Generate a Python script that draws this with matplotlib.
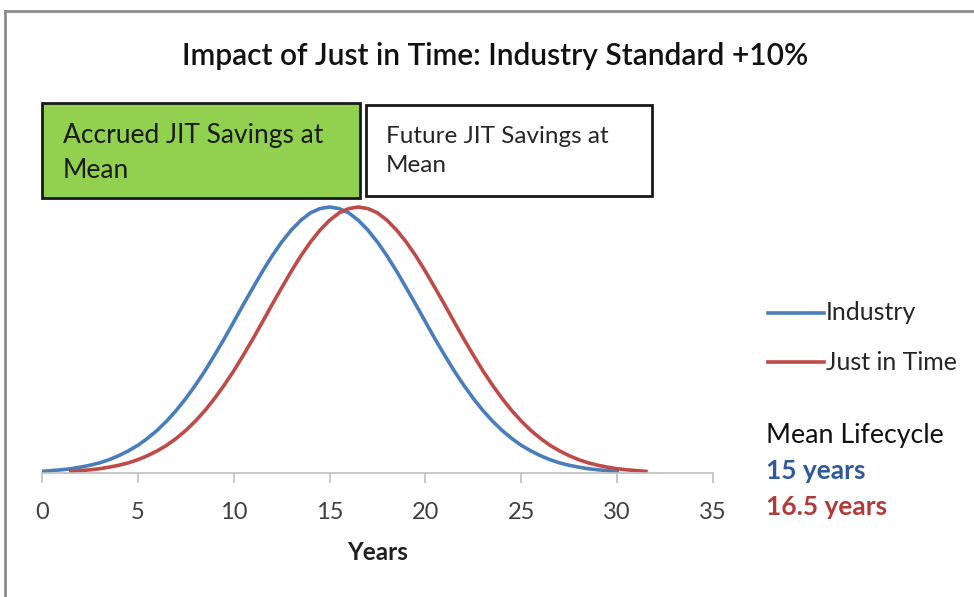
import matplotlib
matplotlib.use("Agg")
from matplotlib import pyplot as plt
from matplotlib.patches import Rectangle
from matplotlib.lines import Line2D

W, H = 974, 597

# values (relative height, peak = 1), every half year
industry_years = [i / 2 for i in range(0, 61)]
industry = [0.006, 0.009, 0.012, 0.016, 0.022, 0.029, 0.038, 0.050, 0.065, 0.083,
            0.104, 0.130, 0.160, 0.195, 0.235, 0.280, 0.330, 0.384, 0.443, 0.504,
            0.568, 0.633, 0.696, 0.758, 0.816, 0.868, 0.913, 0.950, 0.978, 0.994,
            1.000,
            0.994, 0.978, 0.950, 0.913, 0.868, 0.816, 0.758, 0.696, 0.633, 0.568,
            0.504, 0.443, 0.384, 0.330, 0.280, 0.235, 0.195, 0.160, 0.130, 0.104,
            0.083, 0.065, 0.050, 0.038, 0.029, 0.022, 0.016, 0.012, 0.009, 0.006]
jit_years = [1.5 + i / 2 for i in range(0, 61)]
jit = [0.006, 0.009, 0.012, 0.016, 0.022, 0.029, 0.038, 0.050, 0.065, 0.083,
       0.104, 0.130, 0.160, 0.195, 0.235, 0.280, 0.330, 0.384, 0.443, 0.504,
       0.568, 0.633, 0.696, 0.758, 0.816, 0.868, 0.913, 0.950, 0.978, 0.994,
       1.000,
       0.994, 0.978, 0.950, 0.913, 0.868, 0.816, 0.758, 0.696, 0.633, 0.568,
       0.504, 0.443, 0.384, 0.330, 0.280, 0.235, 0.195, 0.160, 0.130, 0.104,
       0.083, 0.065, 0.050, 0.038, 0.029, 0.022, 0.016, 0.012, 0.009, 0.006]
x_ticks = [0, 5, 10, 15, 20, 25, 30, 35]

blue = '#4a7ebb'
red = '#be4b48'
plt.rcParams['font.family'] = ['Lato', 'DejaVu Sans']


def fx(px):
    return px / W


def fy(py):
    return 1 - py / H


fig = plt.figure(figsize=(W / 100, H / 100), dpi=100)

# axes: x=0 at px 42, x=35 at px 713, axis line at py 473
ax = fig.add_axes([fx(42), fy(473), fx(713) - fx(42), (473 - 200) / H])
ax.plot(industry_years, industry, color=blue, lw=2.6, solid_joinstyle='round')
ax.plot(jit_years, jit, color=red, lw=2.6, solid_joinstyle='round')
ax.set_xlim(0, 35)
ax.set_ylim(0, 273 / 266)
ax.set_xticks(x_ticks)
ax.set_yticks([])
for s in ['top', 'right', 'left']:
    ax.spines[s].set_visible(False)
ax.spines['bottom'].set_color('#bfbfbf')
ax.spines['bottom'].set_linewidth(1.2)
ax.tick_params(axis='x', colors='#bfbfbf', length=7, width=1.2, labelsize=17,
               labelcolor='#404040', pad=14, direction='out')
ax.set_xlabel('Years', fontsize=17.5, fontweight='bold', labelpad=13, color='#202020')

# title
fig.text(fx(495), fy(56), 'Impact of Just in Time: Industry Standard +10%',
         ha='center', va='center', fontsize=21.5, fontweight='semibold', color='#111111')

# boxes
fig.add_artist(Rectangle((fx(42), fy(198)), fx(360) - fx(42), (198 - 103) / H,
                         transform=fig.transFigure, facecolor='#92d050',
                         edgecolor='#1a1a1a', lw=2))
fig.text(fx(63), fy(153), 'Accrued JIT Savings at\nMean', ha='left', va='center',
         fontsize=19, color='#1a1a1a', linespacing=1.5)
fig.add_artist(Rectangle((fx(366), fy(196)), fx(652) - fx(366), (196 - 105) / H,
                         transform=fig.transFigure, facecolor='white',
                         edgecolor='#1a1a1a', lw=2))
fig.text(fx(386), fy(151), 'Future JIT Savings at\nMean', ha='left', va='center',
         fontsize=17.5, color='#262626', linespacing=1.45)

# legend
for py, c, lab in [(313, blue, 'Industry'), (362, red, 'Just in Time')]:
    fig.add_artist(Line2D([fx(768), fx(824)], [fy(py), fy(py)], color=c, lw=2.6,
                          transform=fig.transFigure))
    fig.text(fx(826), fy(py), lab, ha='left', va='center', fontsize=18, color='#262626')

fig.text(fx(766), fy(435), 'Mean Lifecycle', ha='left', va='center', fontsize=19.3,
         color='#111111')
fig.text(fx(766), fy(471), '15 years', ha='left', va='center', fontsize=19,
         fontweight='bold', color='#2f5a9a')
fig.text(fx(766), fy(507), '16.5 years', ha='left', va='center', fontsize=19,
         fontweight='bold', color='#b03c3a')

# outer frame (top and left edges only)
fig.add_artist(Line2D([fx(5), 1], [fy(11), fy(11)], color='#8c8c8c', lw=2,
                      transform=fig.transFigure))
fig.add_artist(Line2D([fx(5), fx(5)], [fy(11), 0], color='#8c8c8c', lw=2,
                      transform=fig.transFigure))

fig.savefig('out.png', dpi=100)
